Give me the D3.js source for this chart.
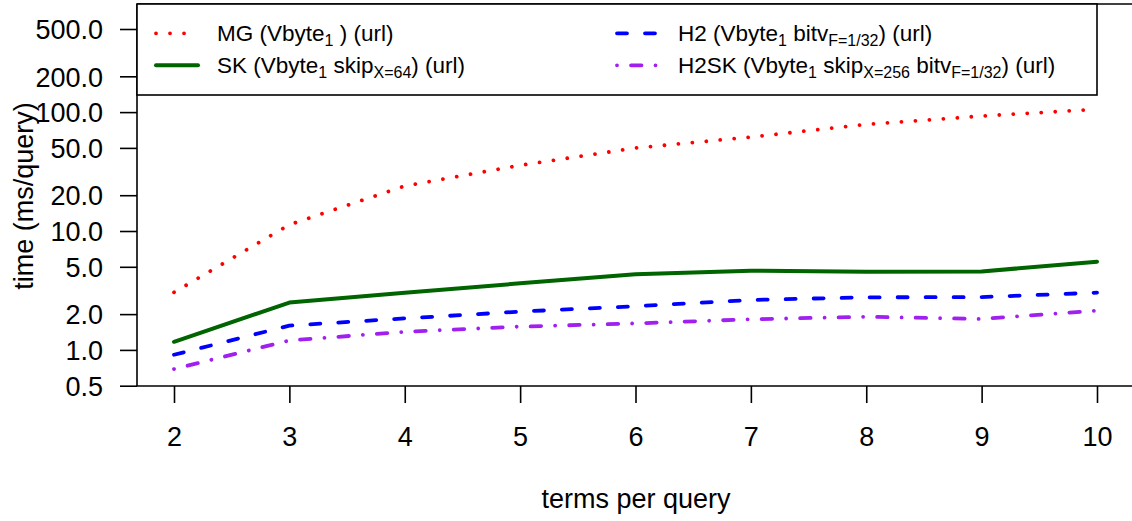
<!DOCTYPE html>
<html>
<head>
<meta charset="utf-8">
<script src="https://cdn.jsdelivr.net/npm/d3@7"></script>
<style>
  html, body { margin: 0; padding: 0; background: #fff; }
  svg { display: block; font-family: "Liberation Sans", Arial, Helvetica, sans-serif; }
</style>
</head>
<body>
<svg id="chart" width="1132" height="521"></svg>
<script>
// Query time per number of query terms, four index layouts
const terms = [2, 3, 4, 5, 6, 7, 8, 9, 10];
const mg   = [3.05, 11.3, 23.9, 35.7, 49.9, 61.7, 78.9, 92.7, 105.6];
const sk   = [1.17, 2.50, 3.02, 3.63, 4.32, 4.63, 4.55, 4.57, 5.52];
const h2   = [0.91, 1.60, 1.84, 2.10, 2.33, 2.63, 2.77, 2.78, 3.03];
const h2sk = [0.69, 1.20, 1.42, 1.57, 1.67, 1.81, 1.90, 1.82, 2.14];

const yTicks = [0.5, 1, 2, 5, 10, 20, 50, 100, 200, 500];
const xTicks = [2, 3, 4, 5, 6, 7, 8, 9, 10];

const seriesNames = ["MG", "SK", "H2", "H2SK"];
const seriesColors = ["#ff0000", "#006400", "#0000ff", "#a020f0"];

const svg = d3.select("#chart");

// plotting region (frame runs slightly past the right edge)
const frame = { left: 137, right: 1135, top: 4, bottom: 386 };

const x = d3.scaleLinear().domain([2, 10]).range([174, 1097]);
const y = d3.scaleLog().domain([0.5, 500]).range([385.7, 29]);

const lw = 3.8;
const styles = [
  { dash: "0.01 14", width: lw },          // dotted
  { dash: null, width: 4 },                // solid
  { dash: "10 18", width: lw },            // dashed
  { dash: "0.01 14 10.5 14", width: lw }   // dot-dash
];

svg.append("defs").append("clipPath").attr("id", "plotclip")
  .append("rect")
  .attr("x", frame.left).attr("y", frame.top)
  .attr("width", frame.right - frame.left).attr("height", frame.bottom - frame.top);

const values = [mg, sk, h2, h2sk];

const line = d3.line()
  .x(d => x(d[0]))
  .y(d => y(d[1]));

const lines = svg.append("g").attr("clip-path", "url(#plotclip)");
values.forEach((vals, i) => {
  const pts = terms.map((t, j) => [t, vals[j]]);
  lines.append("path")
    .datum(pts)
    .attr("d", line)
    .attr("fill", "none")
    .attr("stroke", seriesColors[i])
    .attr("stroke-width", styles[i].width)
    .attr("stroke-linecap", "round")
    .attr("stroke-linejoin", "round")
    .attr("stroke-dasharray", styles[i].dash);
});

// frame
const axisColor = "#000";
const fw = 1.6;
svg.append("line").attr("x1", frame.left).attr("x2", frame.left)
  .attr("y1", frame.top).attr("y2", frame.bottom)
  .attr("stroke", axisColor).attr("stroke-width", fw);
svg.append("line").attr("x1", frame.left).attr("x2", frame.right)
  .attr("y1", frame.bottom).attr("y2", frame.bottom)
  .attr("stroke", axisColor).attr("stroke-width", fw);
svg.append("line").attr("x1", frame.left).attr("x2", frame.right)
  .attr("y1", frame.top).attr("y2", frame.top)
  .attr("stroke", axisColor).attr("stroke-width", fw);

// y axis
const yAxis = d3.axisLeft(y)
  .tickValues(yTicks)
  .tickFormat(d3.format(".1f"))
  .tickSize(17)
  .tickPadding(17);
const gy = svg.append("g")
  .attr("transform", `translate(${frame.left},0)`)
  .call(yAxis);
gy.select(".domain").remove();
gy.selectAll(".tick line").attr("stroke", axisColor).attr("stroke-width", fw);
gy.selectAll(".tick text")
  .attr("fill", "#000")
  .style("font-size", "27px")
  .attr("dy", "0.36em");

// x axis
const xAxis = d3.axisBottom(x)
  .tickValues(xTicks)
  .tickFormat(d3.format("d"))
  .tickSize(17)
  .tickPadding(0);
const gx = svg.append("g")
  .attr("transform", `translate(0,${frame.bottom})`)
  .call(xAxis);
gx.select(".domain").remove();
gx.selectAll(".tick line").attr("stroke", axisColor).attr("stroke-width", fw);
gx.selectAll(".tick text")
  .attr("fill", "#000")
  .style("font-size", "27px")
  .attr("y", 60)
  .attr("dy", null);

// axis titles
svg.append("text")
  .attr("x", 636).attr("y", 508)
  .attr("text-anchor", "middle")
  .style("font-size", "27px")
  .text("terms per query");

svg.append("text")
  .attr("transform", "translate(33,196) rotate(-90)")
  .attr("text-anchor", "middle")
  .style("font-size", "27px")
  .text("time (ms/query)");

// legend
const legend = svg.append("g");
legend.append("rect")
  .attr("x", frame.left).attr("y", frame.top)
  .attr("width", 1097 - frame.left).attr("height", 95 - frame.top)
  .attr("fill", "#fff")
  .attr("stroke", axisColor).attr("stroke-width", fw);

const legendRows = [
  { i: 0, lx: 156, tx: 217, cy: 33.3, parts: [["MG (Vbyte", 0], ["1", 1], [" ) (url)", 0]] },
  { i: 1, lx: 156, tx: 217, cy: 65.3, parts: [["SK (Vbyte", 0], ["1", 1], [" skip", 0], ["X=64", 1], [") (url)", 0]] },
  { i: 2, lx: 617, tx: 678, cy: 33.3, parts: [["H2 (Vbyte", 0], ["1", 1], [" bitv", 0], ["F=1/32", 1], [") (url)", 0]] },
  { i: 3, lx: 617, tx: 678, cy: 65.3, parts: [["H2SK (Vbyte", 0], ["1", 1], [" skip", 0], ["X=256", 1], [" bitv", 0], ["F=1/32", 1], [") (url)", 0]] }
];

legendRows.forEach(r => {
  legend.append("line")
    .attr("x1", r.lx).attr("x2", r.lx + 42)
    .attr("y1", r.cy).attr("y2", r.cy)
    .attr("stroke", seriesColors[r.i])
    .attr("stroke-width", styles[r.i].width)
    .attr("stroke-linecap", "round")
    .attr("stroke-dasharray", styles[r.i].dash);

  const t = legend.append("text")
    .attr("x", r.tx).attr("y", r.cy + 7.3)
    .style("font-size", "22.5px");
  let sub = false;
  r.parts.forEach(([s, isSub]) => {
    const ts = t.append("tspan").text(s);
    if (isSub && !sub) { ts.attr("dy", 5.5).style("font-size", "16px"); sub = true; }
    else if (isSub && sub) { ts.style("font-size", "16px"); }
    else if (!isSub && sub) { ts.attr("dy", -5.5); sub = false; }
  });
});
</script>
</body>
</html>
